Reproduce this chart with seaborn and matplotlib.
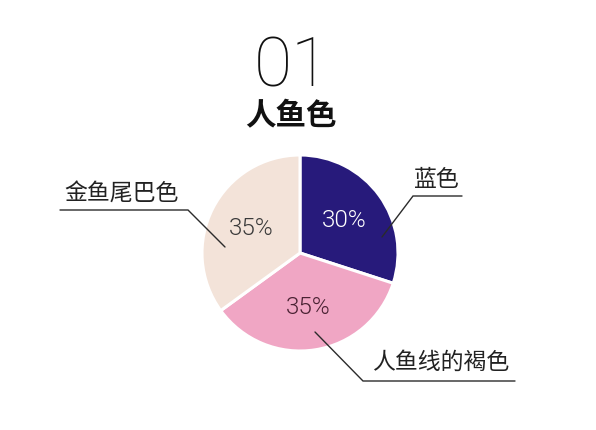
import matplotlib
matplotlib.use("Agg")
import matplotlib.pyplot as plt
import seaborn as sns

# data
categories = ["蓝色", "人鱼线的褐色", "金鱼尾巴色"]
shares = [30, 35, 35]
colors = ["#271a7b", "#f0a6c4", "#f3e3d9"]
pct_colors = ["#ffffff", "#4a2233", "#3a3a3a"]
title_num = "01"
title_text = "人鱼色"

sns.set_theme(style="white")
plt.rcParams["font.family"] = ["Noto Sans CJK SC", "DejaVu Sans"]
num_font = ["Roboto", "DejaVu Sans"]

fig = plt.figure(figsize=(5.96, 4.30), dpi=100)
ax = fig.add_axes([0, 0, 1, 1])

# pie in pixel-like coordinates (y up)
cx, cy, r = 300, 177, 98
wedges, texts, autotexts = ax.pie(
    shares, colors=colors, startangle=90, counterclock=False,
    center=(cx, cy), radius=r, autopct="%d%%", pctdistance=0.56,
    wedgeprops=dict(edgecolor="white", linewidth=2.2),
    textprops=dict(fontsize=17.5, family=num_font, fontweight=300),
)
for t, c in zip(autotexts, pct_colors):
    t.set_color(c)

ax.set_xlim(0, 596)
ax.set_ylim(0, 430)
ax.set_aspect("equal")
ax.axis("off")

# leader lines: (inner point, elbow, end of horizontal)
leaders = [
    ((382, 193), (413, 234), (462, 234)),
    ((315, 98), (363, 49), (515, 49)),
    ((225, 183), (188, 220), (60, 220)),
]
label_pos = [(437, 251), (441, 68), (122, 236)]
for (p0, p1, p2), name, (lx, ly) in zip(leaders, categories, label_pos):
    ax.plot([p0[0], p1[0], p2[0]], [p0[1], p1[1], p2[1]], color="#2b2b2b", lw=1.0,
            solid_joinstyle="miter")
    ax.text(lx, ly, name, ha="center", va="center", fontsize=16.5,
            fontweight="light", color="#222222")

ax.text(292, 362, title_num, ha="center", va="center", fontsize=50,
        family=num_font, fontweight=100, color="#111111")
ax.text(291, 314, title_text, ha="center", va="center", fontsize=22,
        fontweight="black", color="#111111")

fig.savefig("out.png", dpi=100, facecolor="white")
